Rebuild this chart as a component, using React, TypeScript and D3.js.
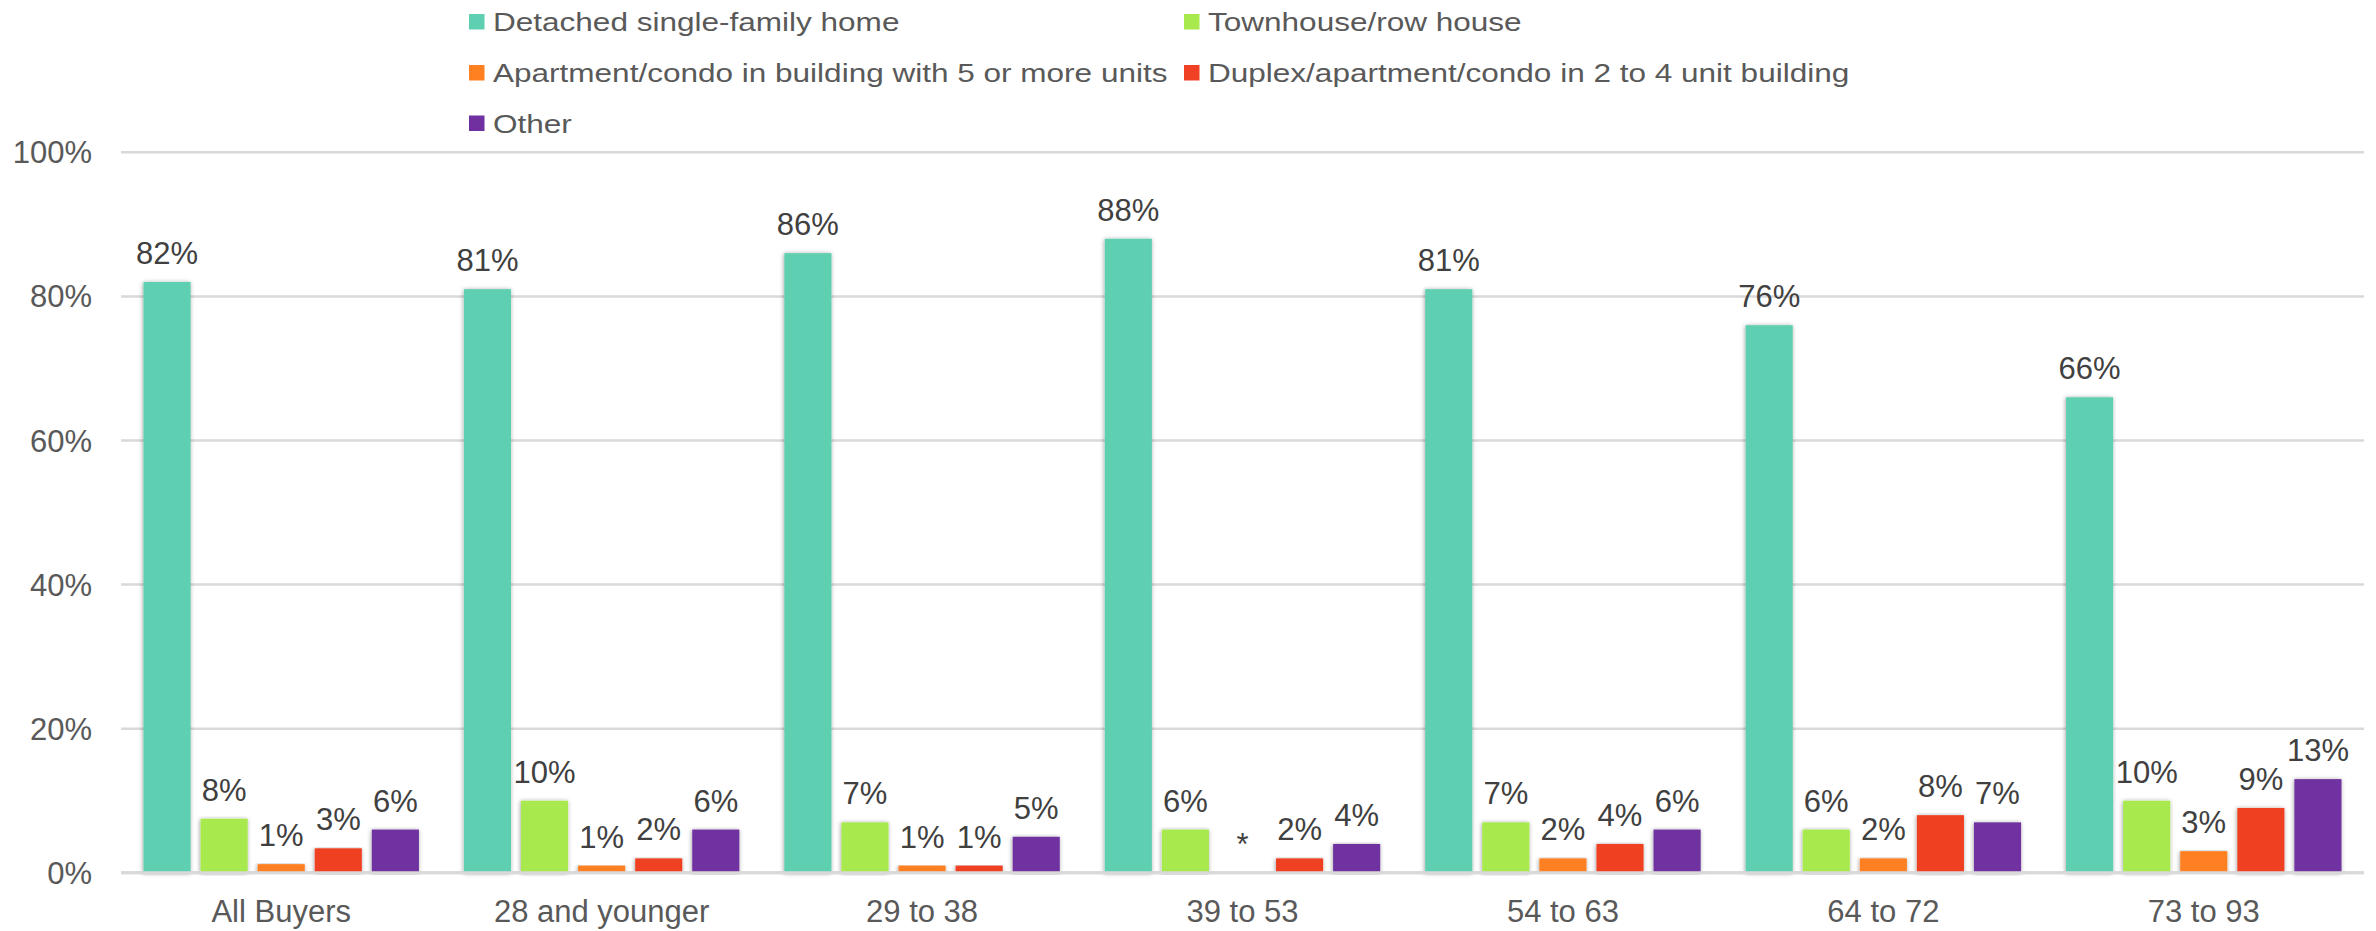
import React from "react";
import * as d3 from "d3";

const categories = ["All Buyers", "28 and younger", "29 to 38", "39 to 53", "54 to 63", "64 to 72", "73 to 93"];
const seriesNames = [
  "Detached single-family home",
  "Townhouse/row house",
  "Apartment/condo in building with 5 or more units",
  "Duplex/apartment/condo in 2 to 4 unit building",
  "Other",
];
const seriesColors = ["#5ECFB1", "#A8EA4E", "#FF8020", "#F04124", "#7030A0"];

const detached = [82, 81, 86, 88, 81, 76, 66];
const townhouse = [7.5, 10, 7, 6, 7, 6, 10];
const apartment5 = [1.2, 1, 1, 0, 2, 2, 3];
const duplex = [3.4, 2, 1, 2, 4, 8, 9];
const other = [6, 6, 5, 4, 6, 7, 13];

const detachedLabels = ["82%", "81%", "86%", "88%", "81%", "76%", "66%"];
const townhouseLabels = ["8%", "10%", "7%", "6%", "7%", "6%", "10%"];
const apartment5Labels = ["1%", "1%", "1%", "*", "2%", "2%", "3%"];
const duplexLabels = ["3%", "2%", "1%", "2%", "4%", "8%", "9%"];
const otherLabels = ["6%", "6%", "5%", "4%", "6%", "7%", "13%"];

const yTicks = [0, 20, 40, 60, 80, 100];

const seriesValues = [detached, townhouse, apartment5, duplex, other];
const seriesLabels = [detachedLabels, townhouseLabels, apartment5Labels, duplexLabels, otherLabels];

const W = 2376;
const H = 931;
const FONT = "'Liberation Sans', Arial, Helvetica, sans-serif";

export default function App() {
  const x0 = d3.scaleBand<string>().domain(categories).range([121, 2364]).padding(0);
  const x1 = d3
    .scaleBand<number>()
    .domain(d3.range(seriesNames.length))
    .range([22.5, x0.bandwidth() - 22.5])
    .paddingInner(0.175)
    .paddingOuter(0);
  const y = d3.scaleLinear().domain([0, 100]).range([872.8, 152.3]);

  const legendItems = [
    { i: 0, x: 469, y: 31 },
    { i: 1, x: 1184, y: 31 },
    { i: 2, x: 469, y: 82 },
    { i: 3, x: 1184, y: 82 },
    { i: 4, x: 469, y: 132.5 },
  ];

  return (
    <svg width={W} height={H} style={{ position: "absolute", left: 0, top: 0, background: "#fff" }} fontFamily={FONT}>
      <defs>
        <filter id="shadow" x="-30%" y="-5%" width="160%" height="110%">
          <feDropShadow dx="-0.5" dy="0.5" stdDeviation="2.2" floodColor="#000" floodOpacity="0.38" />
        </filter>
      </defs>
      <rect x={0} y={0} width={W} height={H} fill="#fff" />

      {/* gridlines */}
      {yTicks.map((t) => (
        <line key={"g" + t} x1={121} x2={2364} y1={y(t)} y2={y(t)} stroke="#D9D9D9" strokeWidth={t === 0 ? 3 : 2.5} />
      ))}

      {/* y tick labels */}
      {yTicks.map((t) => (
        <text key={"yt" + t} x={92} y={y(t) + 11} textAnchor="end" fontSize={31} fill="#595959">
          {t + "%"}
        </text>
      ))}

      {/* bars */}
      {categories.map((c, ci) => (
        <g key={c} transform={`translate(${x0(c)},0)`}>
          {seriesValues.map((vals, si) =>
            vals[ci] > 0 ? (
              <rect
                key={si}
                x={x1(si)}
                y={y(vals[ci])}
                width={x1.bandwidth()}
                height={y(0) - y(vals[ci])}
                fill={seriesColors[si]}
                filter="url(#shadow)"
              />
            ) : null
          )}
        </g>
      ))}

      {/* baseline */}
      <line x1={121} x2={2364} y1={y(0)} y2={y(0)} stroke="#D9D9D9" strokeWidth={3} />

      {/* data labels */}
      {categories.map((c, ci) => (
        <g key={"l" + c} transform={`translate(${x0(c)},0)`}>
          {seriesValues.map((vals, si) => (
            <text
              key={si}
              x={(x1(si) as number) + x1.bandwidth() / 2}
              y={y(vals[ci]) - 18}
              textAnchor="middle"
              fontSize={31}
              fill="#404040"
            >
              {seriesLabels[si][ci]}
            </text>
          ))}
        </g>
      ))}

      {/* x labels */}
      {categories.map((c) => (
        <text key={"x" + c} x={(x0(c) as number) + x0.bandwidth() / 2} y={921.5} textAnchor="middle" fontSize={31} fill="#595959">
          {c}
        </text>
      ))}

      {/* legend */}
      {legendItems.map((it) => (
        <g key={"lg" + it.i}>
          <rect x={it.x} y={it.y - 17} width={15.5} height={15.5} fill={seriesColors[it.i]} />
          <g transform={`translate(${it.x + 24},${it.y}) scale(1.19,1)`}>
            <text x={0} y={0} fontSize={26.5} fill="#595959">
              {seriesNames[it.i]}
            </text>
          </g>
        </g>
      ))}
    </svg>
  );
}
